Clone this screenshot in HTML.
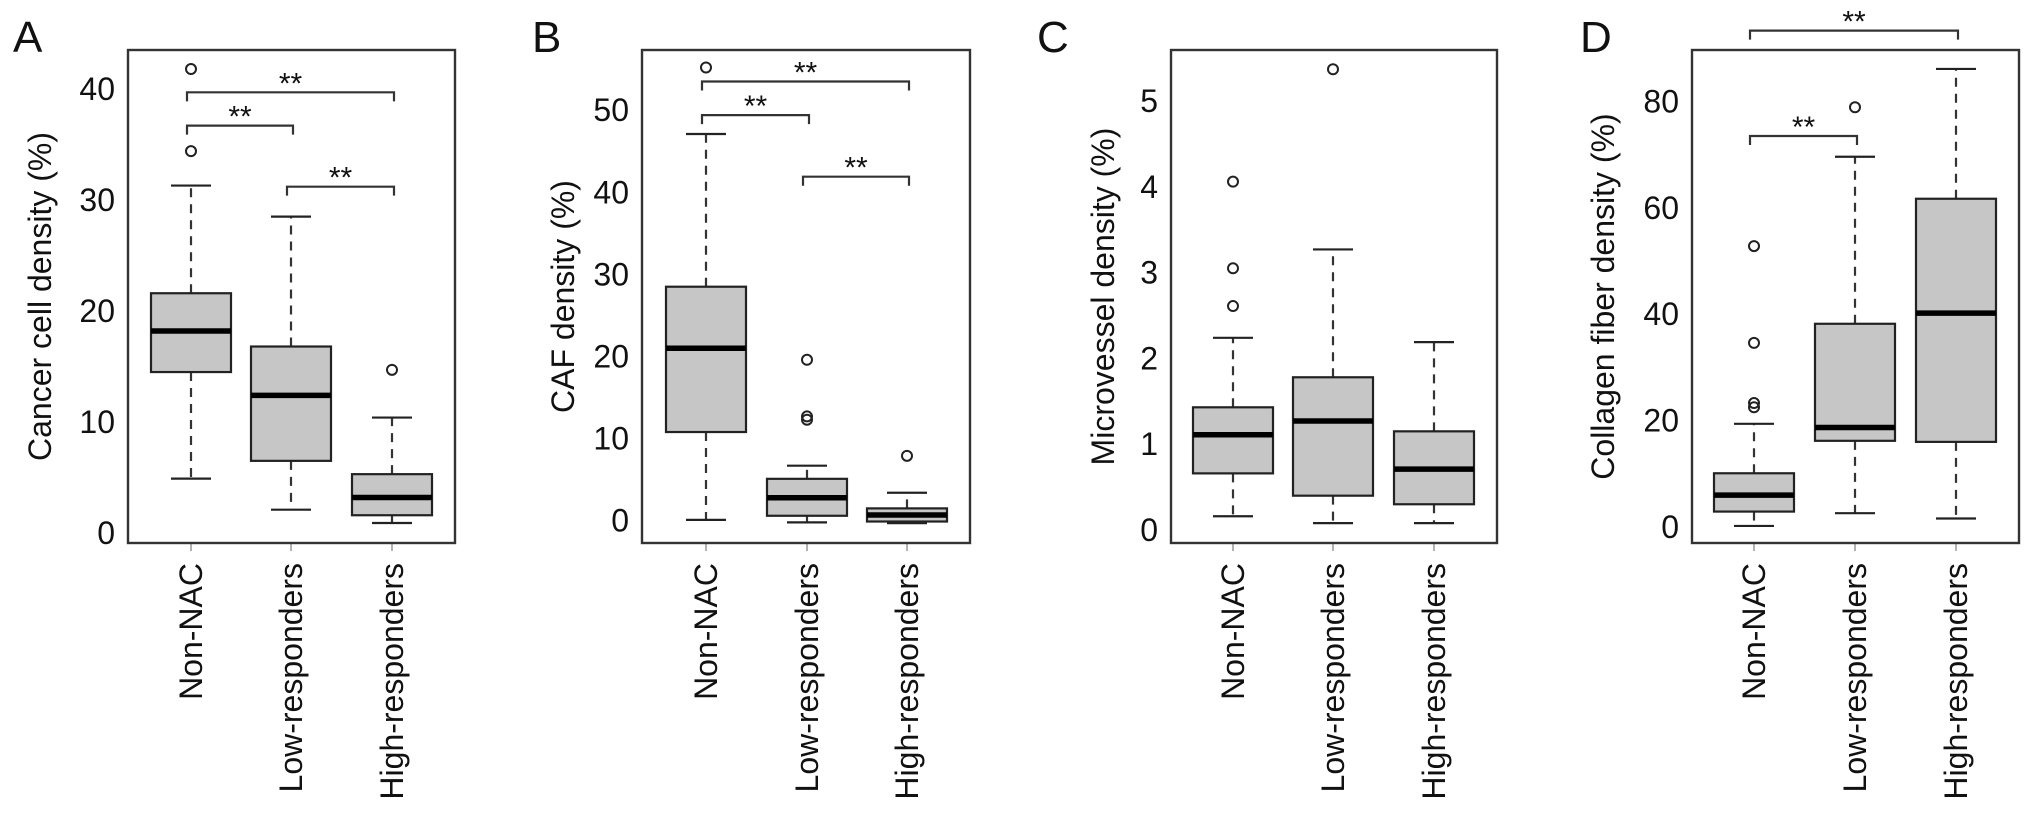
<!DOCTYPE html>
<html><head><meta charset="utf-8"><title>Boxplots</title>
<style>
html,body{margin:0;padding:0;background:#fff;}
svg{display:block;}
text{font-family:"Liberation Sans",Arial,sans-serif;fill:#111;}
</style></head>
<body>
<svg id="fig" width="2032" height="821" viewBox="0 0 2032 821" xmlns="http://www.w3.org/2000/svg"></svg>
<script>
// ---- data ----
const categories = ["Non-NAC","Low-responders","High-responders"];
// stats: [lowerWhisker, Q1, median, Q3, upperWhisker]
const statsA = [[4.9,14.5,18.2,21.6,31.3],[2.1,6.5,12.4,16.8,28.5],[0.9,1.6,3.2,5.3,10.4]];
const outliersA = [[41.8,34.4],[],[14.7]];
const ticksA = [0,10,20,30,40];
const bracketsA = [[0,2,39.7],[0,1,36.7],[1,2,31.2]];

const statsB = [[0.1,10.8,21.0,28.5,47.1],[-0.2,0.6,2.8,5.1,6.7],[-0.3,-0.1,0.7,1.5,3.4]];
const outliersB = [[55.2],[19.6,12.7,12.3],[7.9]];
const ticksB = [0,10,20,30,40,50];
const bracketsB = [[0,2,53.5],[0,1,49.4],[1,2,41.9]];

const statsC = [[0.16,0.66,1.11,1.43,2.24],[0.08,0.40,1.27,1.78,3.27],[0.08,0.30,0.71,1.15,2.19]];
const outliersC = [[4.06,3.05,2.61],[5.37],[]];
const ticksC = [0,1,2,3,4,5];
const bracketsC = [];

const statsD = [[0.2,2.9,6.0,10.1,19.4],[2.6,16.2,18.7,38.2,69.6],[1.6,16.0,40.2,61.7,86.1]];
const outliersD = [[52.8,34.6,23.3,22.5],[78.9],[]];
const ticksD = [0,20,40,60,80];
const bracketsD = [[0,2,93.3],[0,1,73.5]];

// ---- layout ----
const panels = [
 {id:"a",letter:"A",letterX:13,left:128,right:455,zero:533,unit:11.1,centers:[191,291,392],titleX:40,title:"Cancer cell density (%)",stats:statsA,out:outliersA,ticks:ticksA,br:bracketsA},
 {id:"b",letter:"B",letterX:532,left:642,right:970,zero:520.7,unit:8.21,centers:[706,807,907],titleX:563,title:"CAF density (%)",stats:statsB,out:outliersB,ticks:ticksB,br:bracketsB},
 {id:"c",letter:"C",letterX:1037,left:1171,right:1497,zero:530,unit:85.8,centers:[1233,1333,1434],titleX:1103,title:"Microvessel density (%)",stats:statsC,out:outliersC,ticks:ticksC,br:bracketsC},
 {id:"d",letter:"D",letterX:1580,left:1692,right:2019,zero:527,unit:5.32,centers:[1754,1855,1956],titleX:1603,title:"Collagen fiber density (%)",stats:statsD,out:outliersD,ticks:ticksD,br:bracketsD}
];
const TOP=50,BOT=543,HALF=40,CAP=20;
const NS="http://www.w3.org/2000/svg";
const svg=document.getElementById("fig");
function mk(tag,attrs,parent){const e=document.createElementNS(NS,tag);for(const k in attrs)e.setAttribute(k,attrs[k]);(parent||svg).appendChild(e);return e;}

panels.forEach(p=>{
  const y=v=>p.zero-v*p.unit;
  const g=mk("g",{});
  
  
  const L=mk("text",{x:p.letterX,y:52,"font-size":44},g);L.textContent=p.letter;
  
  
  // title
  const ty=(TOP+BOT)/2;
  const T=mk("text",{x:p.titleX,y:ty,"font-size":32,"text-anchor":"middle","dominant-baseline":"central",transform:`rotate(-90 ${p.titleX} ${ty})`},g);
  T.textContent=p.title;
  
  
  // y tick labels
  p.ticks.forEach(t=>{
    const tx=mk("text",{x:p.left-13,y:y(t),"font-size":32,"text-anchor":"end","dominant-baseline":"central"},g);
    tx.textContent=t;
    
    
  });
  // boxes
  p.stats.forEach((s,i)=>{
    const cx=p.centers[i];
    const bg=mk("g",{},g);
    
    
    mk("line",{x1:cx,x2:cx,y1:y(s[3]),y2:y(s[4]),stroke:"#333","stroke-width":2.2,"stroke-dasharray":"9 7"},bg);
    mk("line",{x1:cx,x2:cx,y1:y(s[1]),y2:y(s[0]),stroke:"#333","stroke-width":2.2,"stroke-dasharray":"9 7"},bg);
    mk("line",{x1:cx-CAP,x2:cx+CAP,y1:y(s[4]),y2:y(s[4]),stroke:"#222","stroke-width":2.2},bg);
    mk("line",{x1:cx-CAP,x2:cx+CAP,y1:y(s[0]),y2:y(s[0]),stroke:"#222","stroke-width":2.2},bg);
    mk("rect",{x:cx-HALF,y:y(s[3]),width:2*HALF,height:Math.max(1,y(s[1])-y(s[3])),fill:"#c6c6c6",stroke:"#222","stroke-width":2.2},bg);
    mk("line",{x1:cx-HALF,x2:cx+HALF,y1:y(s[2]),y2:y(s[2]),stroke:"#000","stroke-width":5.5},bg);
    p.out[i].forEach(v=>{
      const c=mk("circle",{cx:cx,cy:y(v),r:5,fill:"none",stroke:"#222","stroke-width":2},bg);
      
      
    });
    // x tick + label
    mk("line",{x1:cx,x2:cx,y1:BOT,y2:BOT+8,stroke:"#999","stroke-width":1.5},g);
    const xl=mk("text",{x:cx,y:563,"font-size":32,"text-anchor":"end","dominant-baseline":"central",transform:`rotate(-90 ${cx} 563)`},g);
    xl.textContent=categories[i];
    
    
  });
  // brackets
  p.br.forEach(b=>{
    const x1=p.centers[b[0]]-4,x2=p.centers[b[1]]+2,by=y(b[2]);
    const bg=mk("g",{},g);
    
    
    mk("path",{d:`M${x1} ${by+9} V${by} H${x2} V${by+9}`,fill:"none",stroke:"#333","stroke-width":2.2},bg);
    const st=mk("text",{x:(x1+x2)/2,y:by+1,"font-size":30,"text-anchor":"middle"},bg);
    st.textContent="**";
  });
  // frame
  const f=mk("rect",{x:p.left,y:TOP,width:p.right-p.left,height:BOT-TOP,fill:"none",stroke:"#333","stroke-width":2.4},g);
  
  
});
</script>
</body></html>
